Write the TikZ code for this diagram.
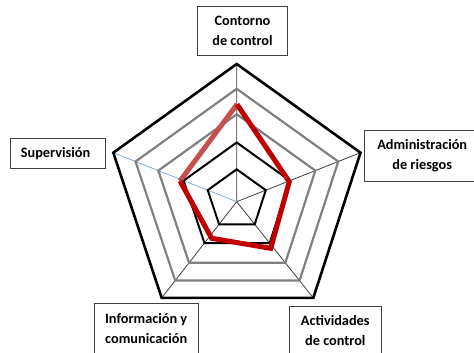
\documentclass[tikz,border=0pt]{standalone}
\usepackage{fontspec}
\setmainfont{Carlito}
\usetikzlibrary{calc}
\definecolor{ringgray}{RGB}{128,128,128}
\definecolor{axisblue}{RGB}{130,170,222}
\definecolor{darkred}{RGB}{192,0,0}
\definecolor{softred}{RGB}{196,80,77}
\tikzset{
  lblbox/.style={draw=black!75, line width=0.8pt, align=center, inner sep=0pt,
    font=\fontsize{14.3}{19.5}\selectfont\bfseries},
  ring/.style={line width=2pt, line join=miter},
  spoke/.style={line width=0.8pt, draw=black!75},
  score/.style={line width=5pt, draw=darkred},
}
\begin{document}
\begin{tikzpicture}[x=1pt,y=-1pt]
\useasboundingbox (0,0) rectangle (474,353);
% axes of the chart
\coordinate (c) at (236.7,201.7);
\coordinate (v1) at (236.7,64);
\coordinate (v2) at (360.5,152.7);
\coordinate (v3) at (313.3,297.9);
\coordinate (v4) at (161.7,297.9);
\coordinate (v5) at (113.3,152.7);
\draw[spoke] (c)--(v1) (c)--(v2) (c)--(v3) (c)--(v4);
\draw[spoke, draw=axisblue] (c)--(v5);
% rings
\foreach \f/\col/\w in {1/black/2.6pt, 0.82/ringgray/2.2pt, 0.635/ringgray/2.2pt, 0.43/black/2pt, 0.235/black/2pt}
  \draw[ring, draw=\col, line width=\w] ($(c)!\f!(v1)$) -- ($(c)!\f!(v2)$) -- ($(c)!\f!(v3)$)
    -- ($(c)!\f!(v4)$) -- ($(c)!\f!(v5)$) -- cycle;
% scores
\coordinate (r1) at (237,104.3);
\coordinate (r2) at (289.3,181.7);
\coordinate (r3) at (270.7,248.3);
\coordinate (r4) at (211.7,238.3);
\coordinate (r5) at (180,181);
\draw[score, draw=softred] (r1)--(r5);
\draw[score] (r5)--(r4)--(r3)--(r2)--(r1);
% labels
\node[lblbox, minimum width=89.6pt, minimum height=49.7pt] (contorno) at (242.5,30.85) {Contorno\\de control};
\node[lblbox, minimum width=116.4pt, minimum height=51pt] (riesgos) at (422.2,155.5) {Administración\\de riesgos};
\node[lblbox, minimum width=92.7pt, minimum height=48.6pt] (actividades) at (335.3,330.3) {Actividades\\de control};
\node[lblbox, minimum width=104.3pt, minimum height=51pt] (informacion) at (146.2,328.5) {Información y\\comunicación};
\node[lblbox, minimum width=95.7pt, minimum height=30pt, text width=74pt, align=left] (supervision) at (57.85,153.3) {Supervisión};
\end{tikzpicture}
\end{document}
